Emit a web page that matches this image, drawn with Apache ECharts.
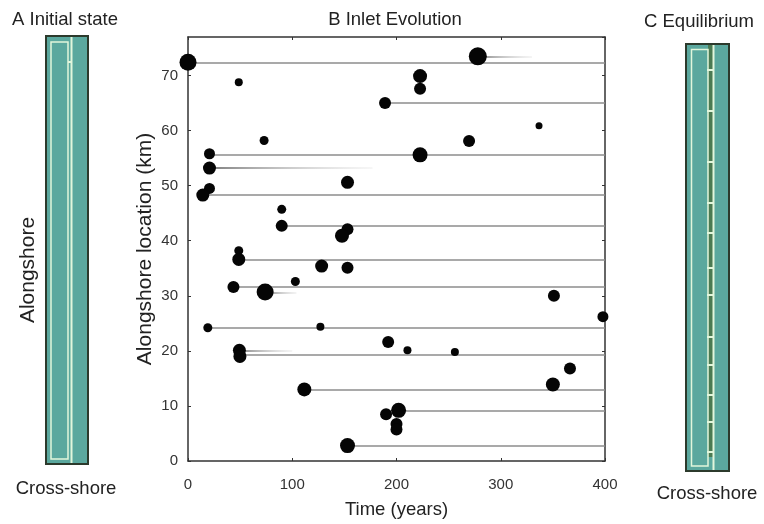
<!DOCTYPE html>
<html>
<head>
<meta charset="utf-8">
<script src="https://cdn.jsdelivr.net/npm/echarts@6/dist/echarts.min.js"></script>
<style>html,body{margin:0;padding:0;background:#fff}#c{width:764px;height:524px}</style>
</head>
<body>
<div id="c"></div>
<script>
// ---- data ----
const xTicks = [0, 100, 200, 300, 400];
const yTicks = [0, 10, 20, 30, 40, 50, 60, 70];

// inlets: time of opening (years), alongshore location (km), relative inlet width
const inletTime = [0, 48.7, 189, 73, 20.6, 20.6, 278, 222.6, 222.6, 336.7, 269.6, 222.6, 153, 20.6, 14.2,
  89.9, 89.9, 153, 147.7, 48.7, 48.7, 128.2, 153, 103, 43.6, 74, 351, 398, 19, 127, 192, 210.5, 256,
  49.3, 49.8, 111.6, 366.4, 350, 190, 202, 200, 200, 153];
const inletLoc = [72.4, 68.8, 65.0, 58.2, 55.8, 53.2, 73.5, 69.9, 67.6, 60.9, 58.1, 55.6, 50.6, 49.5, 48.3,
  45.7, 42.7, 42.1, 40.9, 38.2, 36.6, 35.4, 35.1, 32.6, 31.6, 30.7, 30.0, 26.2, 24.2, 24.4, 21.6, 20.1, 19.8,
  20.1, 19.0, 13.0, 16.8, 13.9, 8.5, 9.2, 6.7, 5.7, 2.8];
const inletWidth = [17, 8, 12, 9, 11, 13, 18, 14, 12, 7, 12, 15, 13, 11, 13,
  9, 12, 12, 14, 9, 13, 13, 12, 9, 12, 17, 12, 11, 9, 8, 12, 8, 8,
  13, 13, 14, 12, 14, 12, 15, 12, 12, 15];

// migration traces: start time, end time, alongshore location
const traceStart = [0, 278, 189, 20.6, 20.6, 14.2, 89.9, 48.7, 43.6, 74, 19, 49.3, 49.8, 111.6, 202, 153];
const traceEnd   = [400, 330, 400, 400, 177, 400, 400, 400, 400, 104, 400, 100, 400, 400, 400, 400];
const traceLoc   = [72.4, 73.5, 65.0, 55.7, 53.2, 48.3, 42.7, 36.6, 31.6, 30.5, 24.2, 20.1, 19.3, 13.0, 9.2, 2.8];

// schematic: equilibrium inlet positions along the barrier (pixel rows of panel C)
const eqInletRows = [70, 111, 162, 203, 233, 268, 295, 337, 365, 395, 422, 452];

// ---- chart ----
const FONT = '"Liberation Sans", Arial, Helvetica, sans-serif';
const chart = echarts.init(document.getElementById('c'), null, {renderer: 'canvas'});

const traceData = traceStart.map((s, i) => {
  const item = {coords: [[s, traceLoc[i]], [traceEnd[i], traceLoc[i]]]};
  if (traceEnd[i] < 400) {
    item.lineStyle = {color: new echarts.graphic.LinearGradient(0, 0, 1, 0, [
      {offset: 0, color: 'rgba(80,80,80,1)'}, {offset: 1, color: 'rgba(220,220,220,0.3)'}])};
  }
  return item;
});

const teal = '#5ba89e', dark = '#2c3a2c', light = '#e2f6dc', strip = '#4b7a52';
const graphics = [];
// Panel A
graphics.push({type: 'rect', shape: {x: 46, y: 36, width: 42, height: 428}, style: {fill: teal, stroke: dark, lineWidth: 2}});
graphics.push({type: 'rect', shape: {x: 51, y: 42, width: 17, height: 417}, style: {fill: null, stroke: light, lineWidth: 1.5}});
graphics.push({type: 'line', shape: {x1: 71.5, y1: 37, x2: 71.5, y2: 463}, style: {stroke: light, lineWidth: 2}});
graphics.push({type: 'line', shape: {x1: 68, y1: 62, x2: 72, y2: 62}, style: {stroke: light, lineWidth: 2}});
// Panel C
graphics.push({type: 'rect', shape: {x: 686, y: 44, width: 43, height: 427}, style: {fill: teal, stroke: dark, lineWidth: 2}});
graphics.push({type: 'rect', shape: {x: 708, y: 45, width: 5, height: 412}, style: {fill: strip}});
graphics.push({type: 'rect', shape: {x: 691.5, y: 49.5, width: 16.5, height: 416.5}, style: {fill: null, stroke: light, lineWidth: 1.5}});
graphics.push({type: 'line', shape: {x1: 713.5, y1: 45, x2: 713.5, y2: 470}, style: {stroke: light, lineWidth: 2}});
eqInletRows.forEach(r => graphics.push({type: 'line', shape: {x1: 707, y1: r, x2: 714, y2: r}, style: {stroke: light, lineWidth: 2}}));

function txt(text, x, y, size, rot) {
  return {type: 'text', x: x, y: y, rotation: rot || 0,
    style: {text: text, x: 0, y: 0, fill: '#222', font: size + 'px ' + FONT,
      align: 'center', verticalAlign: 'middle', textAlign: 'center', textVerticalAlign: 'middle'}};
}
graphics.push(txt('A Initial state', 65, 20, 18.5));
graphics.push(txt('Alongshore', 28, 270, 21, Math.PI / 2));
graphics.push(txt('Cross-shore', 66, 489, 18.5));
graphics.push(txt('B Inlet Evolution', 395, 20, 18.5));
graphics.push(txt('C Equilibrium', 699, 22, 18.5));
graphics.push(txt('Cross-shore', 707, 494, 18.5));

const axisCommon = {
  axisLine: {show: true, onZero: false, lineStyle: {color: '#333', width: 1.5}},
  axisTick: {show: true, inside: true, length: 3, lineStyle: {color: '#333'}},
  splitLine: {show: false},
  axisLabel: {color: '#333', fontFamily: FONT, fontSize: 15}
};

chart.setOption({
  animation: false,
  backgroundColor: '#fff',
  grid: {left: 188, right: 159, top: 37, bottom: 60, show: false},
  graphic: graphics,
  xAxis: [
    Object.assign({}, axisCommon, {type: 'value', min: xTicks[0], max: xTicks[xTicks.length - 1], interval: 100,
      position: 'bottom', name: 'Time (years)', nameLocation: 'middle', nameGap: 39, nameMoveOverlap: false,
      nameTextStyle: {color: '#222', fontFamily: FONT, fontSize: 18.5},
      axisLabel: Object.assign({}, axisCommon.axisLabel, {margin: 16})}),
    Object.assign({}, axisCommon, {type: 'value', min: xTicks[0], max: xTicks[xTicks.length - 1], interval: 100,
      position: 'top', axisLabel: {show: false}})
  ],
  yAxis: [
    Object.assign({}, axisCommon, {type: 'value', min: yTicks[0], max: 77, interval: 10, position: 'left',
      name: 'Alongshore location (km)', nameLocation: 'middle', nameGap: 32, nameMoveOverlap: false,
      nameTextStyle: {color: '#222', fontFamily: FONT, fontSize: 21},
      axisLabel: Object.assign({}, axisCommon.axisLabel, {margin: 10, showMaxLabel: false})}),
    Object.assign({}, axisCommon, {type: 'value', min: yTicks[0], max: 77, interval: 10, position: 'right',
      axisLabel: {show: false}})
  ],
  series: [
    {type: 'lines', coordinateSystem: 'cartesian2d', xAxisIndex: 0, yAxisIndex: 0, silent: true, z: 2,
      lineStyle: {color: '#8c8c8c', width: 1.6, opacity: 1, curveness: 0}, data: traceData},
    {type: 'scatter', xAxisIndex: 0, yAxisIndex: 0, z: 3, clip: false,
      data: inletTime.map((t, i) => [t, inletLoc[i], inletWidth[i]]),
      symbolSize: d => d[2], itemStyle: {color: '#050505', opacity: 1}}
  ]
});
</script>
</body>
</html>
